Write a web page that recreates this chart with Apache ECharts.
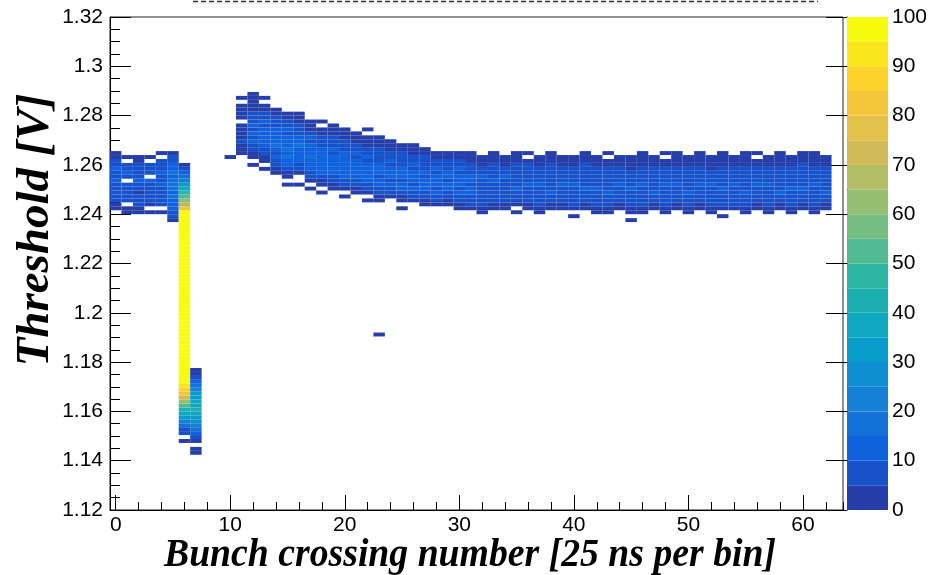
<!DOCTYPE html>
<html><head><meta charset="utf-8">
<script src="https://cdn.jsdelivr.net/npm/echarts@6/dist/echarts.min.js"></script>
<style>html,body{margin:0;padding:0;background:#fff}#chart{width:938px;height:575px}</style>
</head><body><div id="chart"></div>
<script>
// ---- axis ranges / binning ----
const xRange = [-0.5, 63.5];
const yRange = [1.12, 1.32];
const yBinWidth = 0.0016;
const yTickStep = 0.02;
const zTickStep = 10;
const zMax = 100;
const xTitle = 'Bunch crossing number [25 ns per bin]';
const yTitle = 'Threshold [V]';

// ---- data: lowest occupied y-bin per bunch-crossing column (null = empty) ----
const binLow = [
  76,75,75,75,75,73,17,14,null,null,89,90,87,86,85,82,82,81,80,81,79,80,78,78,79,76,78,77,77,77,76,76,
  75,76,76,75,76,75,76,76,74,76,75,75,76,73,75,76,75,76,75,76,75,74,76,75,76,75,76,75,76,75,76,null
];
// counts per column, from binLow upward
const binCounts = [
  [2,4,6,8,5,7,9,11,7,8,10,6,7,4,2],
  [2,3,0,7,6,8,5,9,0,8,11,7,6,0,3],
  [3,2,6,5,8,4,9,7,10,6,8,5,7,3,2],
  [2,0,4,7,6,9,8,5,10,0,7,9,6,0,3],
  [3,0,5,6,9,7,8,11,6,9,10,7,8,5,0,3],
  [3,5,8,10,12,14,16,13,17,15,18,14,16,12,11,8,6,3],
  [3,0,5,9,16,24,32,38,44,50,60,70,80,85,90,95,
   100,100,100,100,100,100,100,100,100,100,100,100,100,100,100,100,100,100,100,100,100,100,
   100,100,100,100,100,100,100,100,100,100,100,100,100,100,100,100,100,100,100,100,100,
   84,68,60,52,46,38,30,22,17,12,7,3],
  [2,2,0,4,8,14,18,22,28,34,38,41,37,39,33,30,24,16,10,6,3,2],
  [],
  [],
  [2],
  [2,3,4,6,3,4,2,3,0,4,3,2,3,0,2],
  [2,0,3,4,6,8,10,9,12,8,11,7,9,6,4,3,2,3,2],
  [2,0,3,4,7,9,12,10,14,11,13,9,10,7,5,3,2,0,2],
  [2,3,5,8,11,9,13,16,12,14,10,12,9,7,5,3,2],
  [2,0,3,4,7,10,12,15,11,17,13,11,14,9,10,7,5,3,2],
  [2,0,0,3,5,9,12,10,14,12,16,11,13,9,8,6,4,3,2],
  [2,0,3,5,8,11,13,10,15,12,14,11,9,10,6,4,3,2],
  [2,0,3,4,7,10,12,14,11,13,10,12,9,8,6,4,3,0,2],
  [2,3,6,9,12,10,14,11,13,9,11,8,7,5,3,2,2],
  [2,0,3,5,8,11,13,10,12,14,10,11,8,7,5,3,2,2],
  [2,4,6,9,12,10,13,11,12,9,10,7,5,3,2,2],
  [2,0,3,5,8,11,12,10,13,11,9,10,8,6,4,3,2,0,2],
  [2,3,5,8,10,12,9,11,13,10,8,9,7,5,3,2,2],
  [3,5,8,11,9,12,10,11,9,10,7,6,4,3,2],
  [2,0,3,4,7,10,11,9,12,10,11,8,9,6,5,3,2],
  [3,5,8,10,9,12,10,11,8,10,7,6,4,3,2],
  [2,4,7,9,11,10,12,9,11,8,9,6,5,3,2],
  [3,5,8,10,9,11,12,10,9,10,7,6,4,2],
  [2,4,7,9,11,10,9,12,10,8,9,6,4,3],
  [2,3,6,8,10,9,11,10,12,9,10,7,5,3,2],
  [3,5,7,9,11,10,9,12,10,8,9,7,4,3,2],
  [2,3,5,6,8,7,9,8,6,10,7,5,4,2,2],
  [3,4,5,7,9,6,8,10,7,8,6,5,3,2,2],
  [2,3,6,8,7,9,8,7,10,6,5,4,3,2],
  [2,0,3,5,7,8,10,7,9,8,6,7,5,3,2,2],
  [3,4,6,8,7,9,10,8,7,9,5,5,3,0,2],
  [2,3,5,7,9,8,6,10,8,7,6,5,3,2,2],
  [2,4,5,8,10,7,9,8,6,8,7,5,3,2,2],
  [3,3,6,7,9,8,10,7,8,6,5,4,2,2],
  [2,0,3,5,7,8,9,7,10,8,6,7,5,3,2,2],
  [3,4,5,8,7,10,8,9,7,6,8,5,3,2,2],
  [2,3,5,7,9,8,10,7,8,9,6,5,3,2,2],
  [2,3,5,6,8,10,7,9,8,7,6,5,4,2,0,2],
  [3,4,6,8,7,9,10,8,7,6,5,4,2,2],
  [2,0,3,4,5,7,9,8,10,7,8,6,5,4,2,2,2],
  [2,3,5,7,8,9,7,10,8,6,7,5,4,2,2,2],
  [3,4,6,8,10,7,9,8,7,6,5,3,2,2],
  [2,3,5,7,9,8,7,10,8,6,7,5,3,2,0,2],
  [2,4,6,8,7,9,10,8,7,5,6,4,3,2,2],
  [2,3,5,7,8,10,9,7,8,9,6,5,3,2,2],
  [3,4,5,7,9,8,10,7,6,8,5,4,2,2,2],
  [2,3,6,8,7,9,8,10,7,6,5,4,2,2,2],
  [2,0,3,5,7,9,8,10,7,8,9,6,5,3,2,2,2],
  [3,5,6,8,9,7,10,8,7,6,5,3,2,2],
  [2,3,5,7,8,10,9,7,8,6,7,5,4,2,2,2],
  [3,4,6,9,7,8,10,8,7,6,5,4,2,0,2],
  [2,3,5,7,9,8,7,10,8,7,6,5,3,2,2],
  [2,4,5,8,10,8,7,9,8,6,5,4,3,2,2],
  [2,3,6,7,9,8,10,7,9,6,5,5,2,2,2],
  [3,4,5,8,7,10,8,9,7,8,6,5,3,2,2],
  [2,3,5,6,8,9,7,10,8,7,8,5,4,2,2,2],
  [3,4,6,8,10,9,7,8,9,7,5,4,2,2],
  []
];
// isolated cells far from their column's band: [column, y-bin, count]
const strayCells = [[23, 44, 2]];
// colour-scale contour levels
const zLevels = [0,5,10,15,20,25,30,35,40,45,50,55,60,65,70,75,80,85,90,95];

// ---- ROOT kBird palette ----
const birdStops = [
  [0.000,[53,42,135]],[0.125,[15,92,221]],[0.250,[20,129,214]],[0.375,[6,164,202]],
  [0.500,[46,183,164]],[0.625,[135,191,119]],[0.750,[209,187,89]],[0.875,[254,200,50]],[1.000,[249,251,14]]
];
function bird(t){
  for(let i=0;i<birdStops.length-1;i++){
    const [t0,c0]=birdStops[i],[t1,c1]=birdStops[i+1];
    if(t<=t1){const f=(t-t0)/(t1-t0);
      return 'rgb('+c0.map((v,j)=>Math.round(v+(c1[j]-v)*f)).join(',')+')';}
  }
  return 'rgb(249,251,14)';
}
const nLev = zLevels.length;
const pieces = zLevels.map((lv,k)=>{
  const p = {gte: lv, color: bird(Math.min(1,(k+0.99)/nLev))};
  if(k<nLev-1) p.lt = zLevels[k+1];
  return p;
});

// ---- build series data ----
const cellData = [];
binCounts.forEach((arr,c)=>{
  if(binLow[c]===null) return;
  arr.forEach((n,k)=>{
    if(n>0){const b=binLow[c]+k; cellData.push([c, yRange[0]+(b+0.5)*yBinWidth, n]);}
  });
});
strayCells.forEach(([c,b,n])=>cellData.push([c, yRange[0]+(b+0.5)*yBinWidth, n]));
const barData = zLevels.map((lv,k)=>[0.5, lv, lv+2.5]);

const labelFont = "'Liberation Sans', Arial, Helvetica, sans-serif";
const G = {left:110, top:17, width:733, height:493};

const chart = echarts.init(document.getElementById('chart'), null, {renderer:'canvas'});
chart.setOption({
  backgroundColor:'#fff',
  animation:false,
  grid:[
    {left:G.left, top:G.top, width:G.width, height:G.height, show:true, borderColor:'#222', borderWidth:1, backgroundColor:'transparent'},
    {left:G.left, top:G.top, width:G.width, height:G.height, show:false},
    {left:847, top:G.top, width:41, height:G.height, show:false}
  ],
  xAxis:[
    {gridIndex:0, type:'value', min:xRange[0], max:xRange[1], splitNumber:7,
     axisLine:{show:true, onZero:false, lineStyle:{color:'#000', width:1}},
     axisTick:{show:true, inside:true, length:15, lineStyle:{color:'#000'}},
     axisLabel:{show:true, showMinLabel:false, showMaxLabel:false, fontFamily:labelFont, fontSize:21, color:'#000', margin:5},
     splitLine:{show:false}},
    {gridIndex:1, type:'value', min:xRange[0], max:xRange[1], splitNumber:32,
     axisLine:{show:false}, axisLabel:{show:false}, splitLine:{show:false},
     axisTick:{show:true, inside:true, length:8, lineStyle:{color:'#000'}}},
    {gridIndex:2, type:'value', min:0, max:1, show:false}
  ],
  yAxis:[
    {gridIndex:0, type:'value', min:yRange[0], max:yRange[1], interval:yTickStep,
     axisLine:{show:true, onZero:false, lineStyle:{color:'#000', width:1}},
     axisTick:{show:true, inside:true, length:21, lineStyle:{color:'#000'}},
     minorTick:{show:true, splitNumber:4, length:10, lineStyle:{color:'#000'}},
     axisLabel:{fontFamily:labelFont, fontSize:21, color:'#000', margin:7},
     splitLine:{show:false}},
    {gridIndex:1, type:'value', min:0, max:1, show:false},
    {gridIndex:2, type:'value', min:0, max:zMax, interval:zTickStep, position:'right',
     axisLine:{show:true, lineStyle:{color:'#000', width:1}},
     axisTick:{show:true, inside:true, length:21, lineStyle:{color:'#000'}},
     axisLabel:{fontFamily:labelFont, fontSize:21, color:'#000', margin:4},
     splitLine:{show:false}}
  ],
  visualMap:{type:'piecewise', show:false, dimension:2, seriesIndex:[0,1], pieces:pieces},
  series:[
    {type:'custom', xAxisIndex:0, yAxisIndex:0, data:cellData, encode:{x:0,y:1}, clip:true,
     renderItem:function(params, api){
       const c=api.value(0), yc=api.value(1);
       const p1=api.coord([c-0.5, yc+yBinWidth/2]);
       const p2=api.coord([c+0.5, yc-yBinWidth/2]);
       return {type:'rect', shape:{x:p1[0], y:p1[1], width:p2[0]-p1[0], height:p2[1]-p1[1]},
               style:{fill:api.visual('color')}};
     }},
    {type:'custom', xAxisIndex:2, yAxisIndex:2, data:barData, encode:{x:0,y:1}, z:1,
     renderItem:function(params, api){
       const lv=api.value(1);
       const p1=api.coord([0, lv+5]);
       const p2=api.coord([1, lv]);
       return {type:'rect', shape:{x:p1[0], y:p1[1], width:p2[0]-p1[0], height:p2[1]-p1[1]},
               style:{fill:api.visual('color')}};
     }}
  ],
  graphic:[
    {type:'line', shape:{x1:193, y1:1.5, x2:818, y2:1.5}, style:{stroke:'#333', lineWidth:1.5, lineDash:[5,3]}},
    {type:'text', x:470, y:555, scaleX:0.92,
     style:{text:xTitle, font:"italic bold 41px 'Liberation Serif', 'Times New Roman', serif", fill:'#000',
            align:'center', verticalAlign:'middle', textAlign:'center', textVerticalAlign:'middle'}},
    {type:'text', x:36, y:230, rotation:Math.PI/2,
     style:{text:yTitle, font:"italic bold 47px 'Liberation Serif', 'Times New Roman', serif", fill:'#000',
            align:'center', verticalAlign:'middle', textAlign:'center', textVerticalAlign:'middle'}}
  ]
});
</script>
</body></html>
